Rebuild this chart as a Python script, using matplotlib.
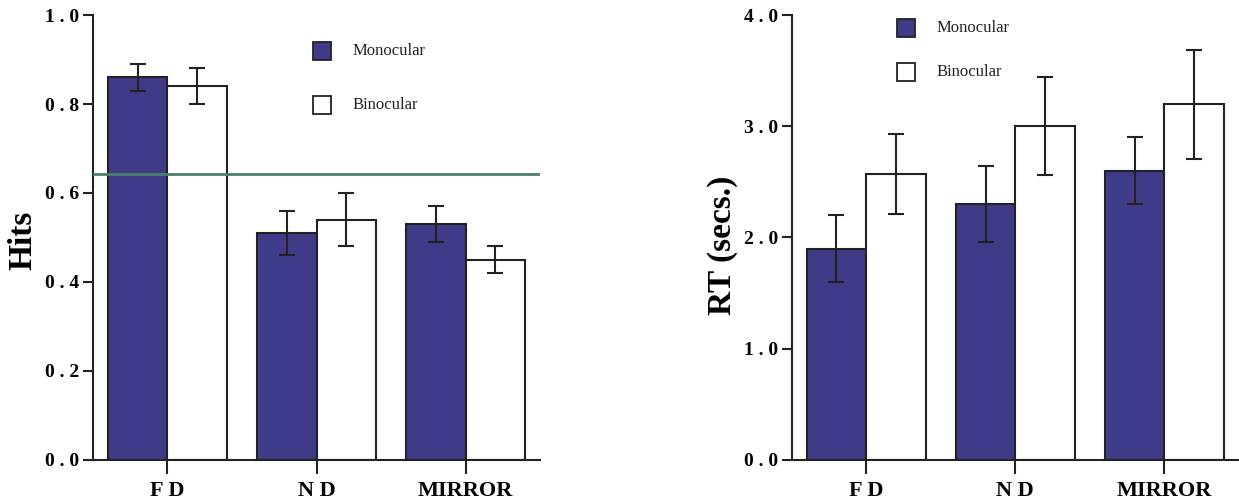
import matplotlib
matplotlib.use("Agg")
import matplotlib.pyplot as plt
import numpy as np
from matplotlib.patches import Rectangle

conditions = ["FD", "ND", "MIRROR"]
hits_mono = [0.86, 0.51, 0.53]
hits_mono_err = [0.03, 0.05, 0.04]
hits_bino = [0.84, 0.54, 0.45]
hits_bino_err = [0.04, 0.06, 0.03]
hits_ref = 0.643
hits_ticks = [0.0, 0.2, 0.4, 0.6, 0.8, 1.0]

rt_mono = [1.9, 2.3, 2.6]
rt_mono_err = [0.3, 0.34, 0.3]
rt_bino = [2.57, 3.0, 3.2]
rt_bino_err = [0.36, 0.44, 0.49]
rt_ticks = [0.0, 1.0, 2.0, 3.0, 4.0]

BLUE = "#3f3b88"
GREEN = "#4c7f66"
INK = "#222222"
plt.rcParams["font.family"] = ["Liberation Serif", "DejaVu Serif"]

fig = plt.figure(figsize=(12.39, 5.01), dpi=100)
ax1 = fig.add_axes([0.075, 0.082, 0.361, 0.888])
ax2 = fig.add_axes([0.639, 0.082, 0.361, 0.888])

x = np.arange(len(conditions))
w = 0.4


def spaced(v):
    # the original tick labels are letter-spaced
    return " ".join("%.1f" % v)


def draw(ax, mono, mono_err, bino, bino_err, ticks, ylabel, lx, ly):
    ax.bar(x - w / 2, mono, w, color=BLUE, edgecolor=INK, linewidth=1.5, zorder=2)
    ax.bar(x + w / 2, bino, w, color="white", edgecolor=INK, linewidth=1.5, zorder=2)
    ax.errorbar(x - w / 2, mono, yerr=mono_err, fmt="none", ecolor=INK,
                elinewidth=1.5, capsize=6, capthick=1.5, zorder=3)
    ax.errorbar(x + w / 2, bino, yerr=bino_err, fmt="none", ecolor=INK,
                elinewidth=1.5, capsize=6, capthick=1.5, zorder=3)
    ax.set_xlim(-0.5, 2.5)
    ax.set_ylim(ticks[0], ticks[-1])
    ax.set_yticks(ticks)
    ax.set_yticklabels([spaced(t) for t in ticks], fontsize=14, fontweight="bold")
    ax.set_xticks(x)
    ax.set_xticklabels([" ".join(c) if len(c) == 2 else c for c in conditions],
                       fontsize=16, fontweight="bold")
    ax.set_ylabel(ylabel, fontsize=24, fontweight="bold")
    ax.yaxis.set_label_coords(lx, ly)
    for s in ["top", "right"]:
        ax.spines[s].set_visible(False)
    for s in ["left", "bottom"]:
        ax.spines[s].set_linewidth(1.5)
        ax.spines[s].set_color(INK)
    ax.tick_params(axis="y", length=7, width=1.5, color=INK, pad=3)
    ax.tick_params(axis="x", length=10, width=1.5, color=INK, pad=5)


draw(ax1, hits_mono, hits_mono_err, hits_bino, hits_bino_err, hits_ticks, "Hits", -0.123, 0.494)
ax1.axhline(hits_ref, color=GREEN, linewidth=2, zorder=4)
draw(ax2, rt_mono, rt_mono_err, rt_bino, rt_bino_err, rt_ticks, "RT (secs.)", -0.12, 0.483)

# legend boxes placed in figure pixels
H = 501
legs = [(313, 51, 353, 54), (897, 28, 937, 44)]
for sx, cy, tx, dy in legs:
    for i, (lab, col) in enumerate([("Monocular", BLUE), ("Binocular", "white")]):
        yc = cy + i * dy
        fig.patches.append(Rectangle((sx / 1239, 1 - (yc + 9) / H), 18 / 1239, 18 / H,
                                     transform=fig.transFigure, figure=fig,
                                     facecolor=col, edgecolor=INK, linewidth=1.3))
        fig.text(tx / 1239, 1 - yc / H, lab, fontsize=12, va="center", ha="left", color=INK)

fig.savefig("out.png", dpi=100)
